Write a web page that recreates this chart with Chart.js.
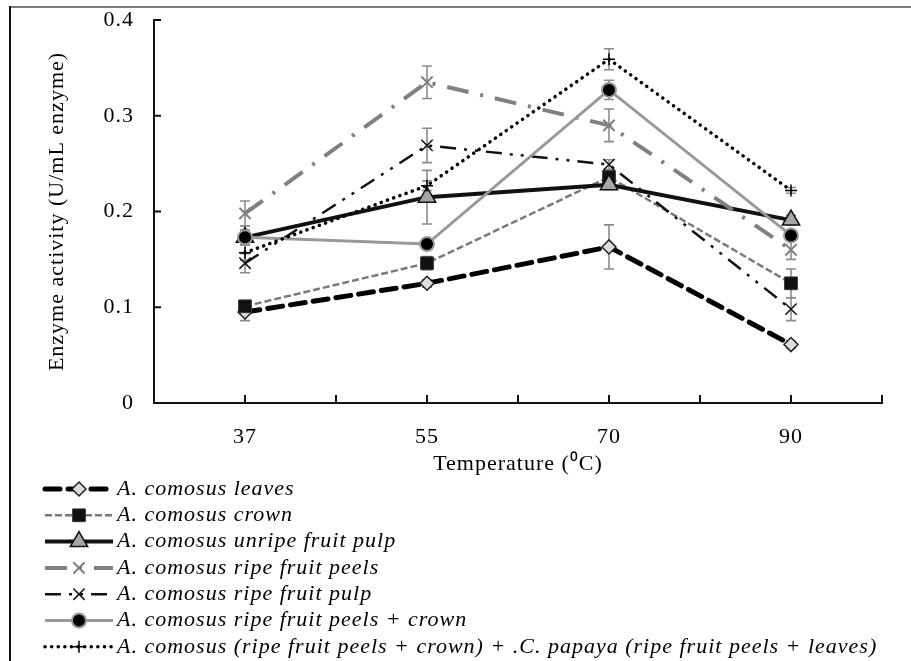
<!DOCTYPE html>
<html>
<head>
<meta charset="utf-8">
<script src="https://cdn.jsdelivr.net/npm/chart.js@4.4.1/dist/chart.umd.min.js"></script>
<style>
    html, body { margin: 0; padding: 0; background: #fff; }
    #wrap { width: 911px; height: 661px; }
</style>
</head>
<body>
<div id="wrap"><canvas id="chart"></canvas></div>
<script>

// temperatures on the x axis and y tick values
const temperatures = ['37', '55', '70', '90'];
const yTicks = [0, 0.1, 0.2, 0.3, 0.4];

const seriesNames = [
    'A. comosus leaves',
    'A. comosus crown',
    'A. comosus unripe fruit pulp',
    'A. comosus ripe fruit peels',
    'A. comosus ripe fruit pulp',
    'A. comosus ripe fruit peels + crown',
    'A. comosus (ripe fruit peels + crown) + .C. papaya (ripe fruit peels + leaves)'
];

// enzyme activity (U/mL enzyme), one value per temperature
const leaves = [0.095, 0.125, 0.163, 0.061];
const crown = [0.101, 0.146, 0.236, 0.125];
const unripePulp = [0.173, 0.215, 0.228, 0.191];
const ripePeels = [0.198, 0.335, 0.290, 0.160];
const ripePulp = [0.146, 0.269, 0.249, 0.098];
const peelsCrown = [0.173, 0.166, 0.327, 0.175];
const mixture = [0.157, 0.227, 0.359, 0.222];

// +/- error for each point
const leavesErr = [0.009, 0.004, 0.023, 0.004];
const crownErr = [0.005, 0.007, 0.005, 0.015];
const unripePulpErr = [0.008, 0.028, 0.005, 0.005];
const ripePeelsErr = [0.013, 0.017, 0.017, 0.010];
const ripePulpErr = [0.010, 0.018, 0.005, 0.012];
const peelsCrownErr = [0.005, 0.005, 0.010, 0.005];
const mixtureErr = [0.008, 0.005, 0.011, 0.003];

const serif = '"Liberation Serif", "Times New Roman", serif';

function toPoints(values) {
    return values.map((v, i) => ({ x: i + 0.5, y: v }));
}

function makeDataset(idx, values, errors, style) {
    return Object.assign({
        label: seriesNames[idx],
        data: toPoints(values),
        errors: errors,
        tension: 0,
        fill: false,
        order: 10 - idx
    }, style);
}

const datasets = [
    makeDataset(0, leaves, leavesErr, {
        borderColor: '#000', borderWidth: 5, borderDash: [15, 8], borderCapStyle: 'round',
        pointStyle: 'rectRot', pointRadius: 7, pointBackgroundColor: '#ddd',
        pointBorderColor: '#222', pointBorderWidth: 1.5
    }),
    makeDataset(1, crown, crownErr, {
        borderColor: '#7a7a7a', borderWidth: 2.5, borderDash: [7, 3],
        pointStyle: 'rect', pointRadius: 9, pointBackgroundColor: '#111',
        pointBorderColor: '#333', pointBorderWidth: 1
    }),
    makeDataset(2, unripePulp, unripePulpErr, {
        borderColor: '#111', borderWidth: 4,
        pointStyle: 'triangle', pointRadius: 10, pointBackgroundColor: '#a6a6a6',
        pointBorderColor: '#111', pointBorderWidth: 1.5
    }),
    makeDataset(3, ripePeels, ripePeelsErr, {
        borderColor: '#808080', borderWidth: 4, borderDash: [22, 12, 3, 12],
        pointStyle: 'crossRot', pointRadius: 8, pointBackgroundColor: '#808080',
        pointBorderColor: '#808080', pointBorderWidth: 2
    }),
    makeDataset(4, ripePulp, ripePulpErr, {
        borderColor: '#111', borderWidth: 2.5, borderDash: [16, 8, 3, 8, 3, 8],
        pointStyle: 'crossRot', pointRadius: 8, pointBackgroundColor: '#111',
        pointBorderColor: '#111', pointBorderWidth: 1.5
    }),
    makeDataset(5, peelsCrown, peelsCrownErr, {
        borderColor: '#999', borderWidth: 3,
        pointStyle: 'circle', pointRadius: 7, pointBackgroundColor: '#000',
        pointBorderColor: '#999', pointBorderWidth: 2
    }),
    makeDataset(6, mixture, mixtureErr, {
        borderColor: '#000', borderWidth: 3.5, borderDash: [0.1, 6.5], borderCapStyle: 'round',
        pointStyle: 'cross', pointRadius: 6, pointBackgroundColor: '#000',
        pointBorderColor: '#000', pointBorderWidth: 1.5
    })
];

// outer frame, text spacing
const framePlugin = {
    id: 'frame',
    beforeDraw(chart) {
        const ctx = chart.ctx;
        ctx.letterSpacing = '1px';
        ctx.save();
        ctx.lineWidth = 2;
        ctx.strokeStyle = '#7a7a7a';
        ctx.beginPath();
        ctx.moveTo(9, 7);
        ctx.lineTo(chart.width, 7);
        ctx.stroke();
        ctx.strokeStyle = '#111';
        ctx.beginPath();
        ctx.moveTo(10, 6);
        ctx.lineTo(10, chart.height);
        ctx.stroke();
        ctx.restore();
    }
};

// gray error bars with caps, drawn under the lines
const errorBarPlugin = {
    id: 'errorBars',
    beforeDatasetsDraw(chart) {
        const ctx = chart.ctx;
        const xs = chart.scales.x, ys = chart.scales.y;
        ctx.save();
        ctx.strokeStyle = '#8c8c8c';
        ctx.lineWidth = 1.6;
        chart.data.datasets.forEach(ds => {
            ds.data.forEach((p, i) => {
                const e = ds.errors[i];
                const x = xs.getPixelForValue(p.x);
                const top = ys.getPixelForValue(p.y + e);
                const bot = ys.getPixelForValue(p.y - e);
                ctx.beginPath();
                ctx.moveTo(x, top); ctx.lineTo(x, bot);
                ctx.moveTo(x - 5, top); ctx.lineTo(x + 5, top);
                ctx.moveTo(x - 5, bot); ctx.lineTo(x + 5, bot);
                ctx.stroke();
            });
        });
        ctx.restore();
    }
};

// inward tick marks like the original
const tickMarkPlugin = {
    id: 'tickMarks',
    afterDraw(chart) {
        const ctx = chart.ctx;
        const xs = chart.scales.x, ys = chart.scales.y;
        ctx.save();
        ctx.strokeStyle = '#111';
        ctx.lineWidth = 2;
        ctx.beginPath();
        ys.ticks.forEach(t => {
            const y = ys.getPixelForValue(t.value);
            ctx.moveTo(xs.left, y);
            ctx.lineTo(xs.left + 7, y);
        });
        xs.ticks.forEach(t => {
            const x = xs.getPixelForValue(t.value);
            ctx.moveTo(x, ys.bottom);
            ctx.lineTo(x, ys.bottom - 8);
        });
        ctx.stroke();
        ctx.restore();
    }
};

// legend below the plot, one row per series
const legendPlugin = {
    id: 'bottomLegend',
    afterDraw(chart) {
        const ctx = chart.ctx;
        const x0 = 45, x1 = 113, rowTop = 489, rowStep = 26.3;
        ctx.save();
        chart.data.datasets.forEach((ds, i) => {
            const y = rowTop + i * rowStep;
            ctx.strokeStyle = ds.borderColor;
            ctx.lineWidth = ds.borderWidth;
            ctx.lineCap = ds.borderCapStyle || 'butt';
            ctx.setLineDash(ds.borderDash || []);
            ctx.beginPath();
            ctx.moveTo(x0, y);
            ctx.lineTo(x1, y);
            ctx.stroke();

            ctx.setLineDash([]);
            ctx.lineCap = 'butt';
            ctx.fillStyle = ds.pointBackgroundColor;
            ctx.strokeStyle = ds.pointBorderColor;
            ctx.lineWidth = ds.pointBorderWidth;
            Chart.helpers.drawPoint(ctx, {
                pointStyle: ds.pointStyle,
                radius: ds.pointRadius,
                rotation: 0,
                borderWidth: ds.pointBorderWidth
            }, (x0 + x1) / 2, y);

            ctx.fillStyle = '#000';
            ctx.font = 'italic 22px ' + serif;
            ctx.letterSpacing = '1px';
            ctx.textAlign = 'left';
            ctx.textBaseline = 'middle';
            ctx.fillText(ds.label, 117, y);
        });
        ctx.restore();
    }
};

function centerTicks() {
    const ticks = [];
    for (let i = 0; i <= temperatures.length * 2; i++) {
        ticks.push({ value: i / 2 });
    }
    return ticks;
}

// fixed axis boxes so the plot area sits where the original does
function fixBox(s, size) {
    if (s.isHorizontal()) s.height = size; else s.width = size;
    s.paddingTop = 0;
    s.paddingBottom = 0;
    s.paddingLeft = 0;
    s.paddingRight = 0;
}

Chart.defaults.font.family = serif;
Chart.defaults.color = '#000';

new Chart(document.getElementById('chart').getContext('2d'), {
    type: 'line',
    data: { datasets: datasets },
    options: {
        responsive: true,
        maintainAspectRatio: false,
        animation: false,
        events: [],
        layout: { padding: { top: 20, right: 29, bottom: 178, left: 0 } },
        plugins: {
            legend: { display: false },
            tooltip: { enabled: false }
        },
        scales: {
            x: {
                type: 'linear',
                min: 0,
                max: temperatures.length,
                afterFit: s => fixBox(s, 80),
                afterBuildTicks: s => { s.ticks = centerTicks(); },
                grid: { display: false, drawTicks: false },
                border: { display: true, color: '#111', width: 2 },
                ticks: {
                    autoSkip: false,
                    maxRotation: 0,
                    padding: 21,
                    font: { size: 22 },
                    callback: (v, i) => (i % 2 === 1 ? temperatures[(i - 1) / 2] : '')
                },
                title: {
                    display: true,
                    text: 'Temperature (\u2070C)',
                    font: { size: 22 },
                    padding: { top: 0, bottom: 6 }
                }
            },
            y: {
                min: 0,
                max: 0.4,
                afterFit: s => fixBox(s, 154),
                afterBuildTicks: s => { s.ticks = yTicks.map(v => ({ value: v })); },
                grid: { display: false, drawTicks: false },
                border: { display: true, color: '#111', width: 2 },
                ticks: {
                    padding: 20,
                    font: { size: 22 },
                    callback: v => (v === 0 ? '0' : v.toFixed(1))
                },
                title: {
                    display: true,
                    text: 'Enzyme activity (U/mL enzyme)',
                    font: { size: 22 },
                    padding: { top: 44, bottom: 0 }
                }
            }
        }
    },
    plugins: [framePlugin, errorBarPlugin, tickMarkPlugin, legendPlugin]
});
</script>
</body>
</html>
